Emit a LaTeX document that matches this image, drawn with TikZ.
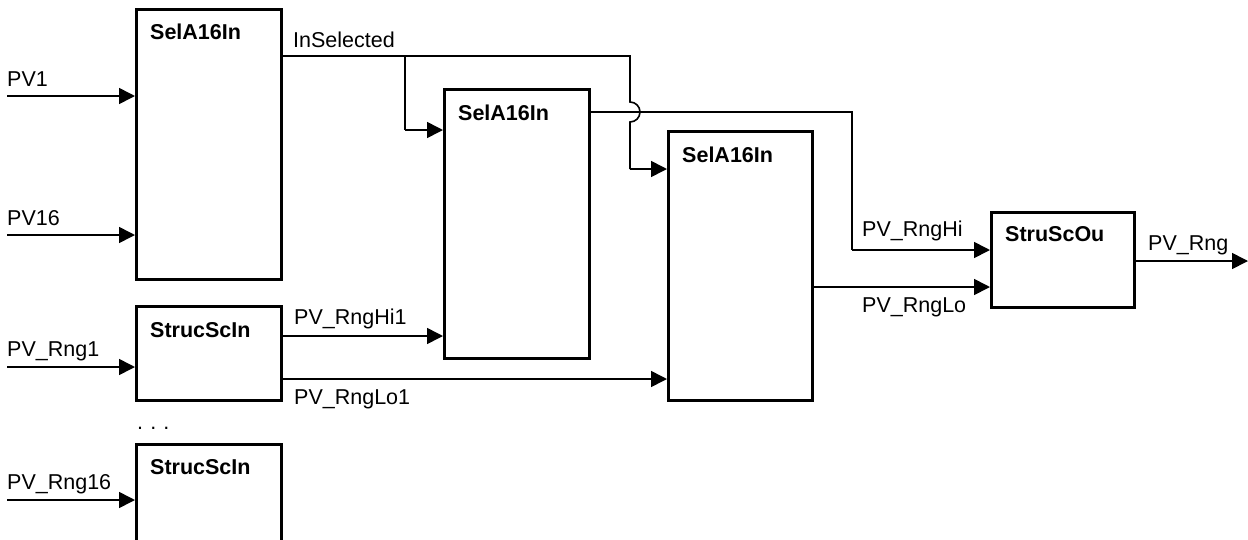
\documentclass[tikz,border=0pt]{standalone}
\usepackage{fontspec}
\setmainfont{Liberation Sans}
\usetikzlibrary{arrows.meta}
\begin{document}
\begin{tikzpicture}[x=1pt,y=-1pt,
  font=\fontsize{21.5}{25}\selectfont,
  blk/.style={draw=black,line width=3pt,fill=white,inner sep=0pt,minimum width=145pt},
  conn/.style={line width=1.6pt,-{Triangle[length=16pt,width=16pt]}},
  wire/.style={line width=1.6pt},
  lbl/.style={anchor=base west,inner sep=0pt},
  title/.style={anchor=base west,inner sep=0pt,font=\fontsize{21.5}{25}\selectfont\bfseries}]
\useasboundingbox (0,0) rectangle (1248,539);
% blocks
\node[blk,minimum height=270pt] (b1) at (209,144.5) {};
\node[blk,minimum height=94pt] (b2) at (209,353.5) {};
\node[blk,minimum height=120pt] (b3) at (209,504.5) {};
\node[blk,minimum height=269pt] (b4) at (517,224) {};
\node[blk,minimum width=144pt,minimum height=269pt] (b5) at (740.5,266) {};
\node[blk,minimum width=143pt,minimum height=95pt] (b6) at (1063,260) {};
% block titles
\node[title] (t1) at (150,39) {SelA16In};
\node[title] (t2) at (150,337) {StrucScIn};
\node[title] (t3) at (150,474) {StrucScIn};
\node[title] (t4) at (458,120) {SelA16In};
\node[title] (t5) at (682,162) {SelA16In};
\node[title] (t6) at (1005,241) {StruScOu};
% inputs
\coordinate (i1) at (7,96);
\coordinate (i2) at (7,235);
\coordinate (i3) at (7,367);
\coordinate (i4) at (7,500);
\draw[conn] (i1) -- (i1 -| b1.west);
\draw[conn] (i2) -- (i2 -| b1.west);
\draw[conn] (i3) -- (i3 -| b2.west);
\draw[conn] (i4) -- (i4 -| b3.west);
\node[lbl] (l1) at (7,86) {PV1};
\node[lbl] (l2) at (7,225) {PV16};
\node[lbl] (l3) at (7,356) {PV\_Rng1};
\node[lbl] (l4) at (7,489) {PV\_Rng16};
% InSelected
\coordinate (s0) at (283,56);
\coordinate (sa) at (405,56);
\coordinate (sb) at (405,130);
\coordinate (sc) at (630,56);
\coordinate (sd) at (630,169);
\draw[wire] (s0 -| b1.east) -- (sc) -- (630,102) arc[start angle=-90,end angle=90,radius=10] -- (sd);
\draw[conn] (sd) -- (sd -| b5.west);
\draw[wire] (sa) -- (sb);
\draw[conn] (sb) -- (sb -| b4.west);
\node[lbl] (ls) at (293,47) {InSelected};
% b4 output
\coordinate (h0) at (591,112);
\coordinate (h1) at (852,112);
\coordinate (h2) at (852,250);
\draw[wire] (h0 -| b4.east) -- (h1) -- (h2);
\draw[conn] (h2) -- (h2 -| b6.west);
\node[lbl] (lh) at (862,236) {PV\_RngHi};
% b5 output
\coordinate (o5) at (814,287);
\draw[conn] (o5 -| b5.east) -- (o5 -| b6.west);
\node[lbl] (lo) at (862,312) {PV\_RngLo};
% StrucScIn outputs
\coordinate (r1) at (283,336);
\coordinate (r2) at (283,379);
\draw[conn] (r1 -| b2.east) -- (r1 -| b4.west);
\draw[conn] (r2 -| b2.east) -- (r2 -| b5.west);
\node[lbl] (lr1) at (294,324) {PV\_RngHi1};
\node[lbl] (lr2) at (294,404) {PV\_RngLo1};
% final output
\coordinate (out) at (1248,261);
\draw[conn] (out -| b6.east) -- (out);
\node[lbl] (lout) at (1148,250) {PV\_Rng};
% dots
\node[lbl] (dots) at (137,429) {.\,\,.\,\,.};
\end{tikzpicture}
\end{document}
